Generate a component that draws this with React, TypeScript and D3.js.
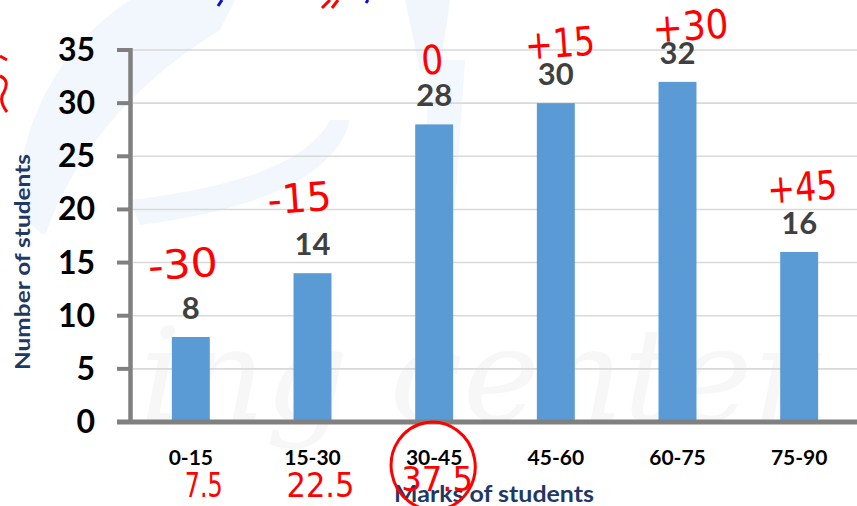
import React from "react";
import * as d3 from "d3";

const categories = ["0-15", "15-30", "30-45", "45-60", "60-75", "75-90"];
const values = [8, 14, 28, 30, 32, 16];
const yTicks = [0, 5, 10, 15, 20, 25, 30, 35];
const deviations = ["-30", "-15", "0", "+15", "+30", "+45"];
const midpoints = ["7.5", "22.5", "37.5"];

const W = 857;
const H = 506;

export default function App() {
  const x = d3
    .scaleBand<string>()
    .domain(categories)
    .range([130, 860])
    .paddingInner(0.688)
    .paddingOuter(0.344);
  const y = d3.scaleLinear().domain([0, 35]).range([422, 50]);
  const bw = x.bandwidth();
  const cx = (c: string) => (x(c) as number) + bw / 2;

  const font = "Lato, 'Open Sans', 'Liberation Sans', sans-serif";
  const hand = "'DejaVu Sans', sans-serif";

  // annotation placement (centre offset from bar centre, baseline, width)
  const devPos = [
    { dx: -7, base: 278, w: 70 },
    { dx: -12, base: 212, w: 64 },
    { dx: -1, base: 74, w: 22 },
    { dx: 5, base: 57, w: 70 },
    { dx: 14, base: 40, w: 76 },
    { dx: 4, base: 201, w: 70 },
  ];
  const midPos = [
    { dx: 13, base: 497, w: 38 },
    { dx: 8, base: 497, w: 68 },
    { dx: 3, base: 491, w: 72 },
  ];

  return (
    <svg width={W} height={H} style={{ position: "absolute", left: 0, top: 0, background: "#fff" }}>
      <rect x={0} y={0} width={W} height={H} fill="#fff" />
      {/* faint watermark */}
      <g>
        <path d="M130,0 Q40,60 20,170 Q15,220 45,235 Q90,110 220,30 L235,0 Z" fill="#f1f7fc" />
        <path d="M405,0 L450,0 L440,70 L420,70 Z" fill="#f0f6fc" />
        <path d="M130,200 Q300,180 330,120 L350,120 Q330,200 140,225 Z" fill="#f1f7fc" />
        <path d="M430,60 L465,60 L452,250 L420,250 Z" fill="#f2f8fd" />
        <text
          x={140}
          y={420}
          fontFamily="'DejaVu Serif', serif"
          fontStyle="italic"
          fontSize={130}
          fill="#f7f7f7"
        >
          ing center
        </text>
      </g>

      {/* gridlines */}
      {yTicks.slice(1).map((t) => (
        <line key={t} x1={133} x2={W} y1={y(t)} y2={y(t)} stroke="#d9d9d9" strokeWidth={1.6} />
      ))}

      {/* bars */}
      {values.map((v, i) => (
        <rect
          key={categories[i]}
          x={x(categories[i])}
          y={y(v)}
          width={bw}
          height={y(0) - y(v)}
          fill="#5b9bd5"
        />
      ))}

      {/* value labels */}
      {values.map((v, i) => (
        <text
          key={"v" + i}
          x={cx(categories[i])}
          y={y(v) - 18}
          textAnchor="middle"
          fontFamily={font}
          fontWeight={700}
          fontSize={31}
          fill="#404040"
        >
          {v}
        </text>
      ))}

      {/* y axis */}
      <line x1={130.5} x2={130.5} y1={y(35) - 2} y2={y(0)} stroke="#808080" strokeWidth={4.5} />
      {yTicks.map((t) => (
        <g key={"t" + t}>
          <line x1={117} x2={130} y1={y(t)} y2={y(t)} stroke="#808080" strokeWidth={4} />
          <text
            x={95}
            y={y(t) + 11}
            textAnchor="end"
            fontFamily={font}
            fontWeight={700}
            fontSize={32}
            fill="#000"
          >
            {t}
          </text>
        </g>
      ))}
      {/* x axis */}
      <line x1={117} x2={W} y1={y(0)} y2={y(0)} stroke="#808080" strokeWidth={5} />
      {categories.map((c) => (
        <text
          key={"c" + c}
          x={cx(c)}
          y={465}
          textAnchor="middle"
          fontFamily={font}
          fontWeight={700}
          fontSize={21}
          fill="#000"
        >
          {c}
        </text>
      ))}

      {/* axis titles */}
      <text
        x={494}
        y={502}
        textAnchor="middle"
        fontFamily={font}
        fontWeight={700}
        fontSize={22}
        textLength={200}
        lengthAdjust="spacingAndGlyphs"
        fill="#1f3864"
      >
        Marks of students
      </text>
      <text
        transform={`translate(30,262) rotate(-90)`}
        textAnchor="middle"
        fontFamily={font}
        fontWeight={700}
        fontSize={21}
        textLength={216}
        lengthAdjust="spacingAndGlyphs"
        fill="#1f3864"
      >
        Number of students
      </text>

      {/* red handwritten annotations */}
      {deviations.map((d, i) => {
        const px = cx(categories[i]) + devPos[i].dx;
        const py = devPos[i].base;
        return (
          <text
            key={"d" + i}
            x={px - devPos[i].w / 2}
            y={py}
            fontFamily={hand}
            fontSize={40}
            textLength={devPos[i].w}
            lengthAdjust="spacingAndGlyphs"
            fill="#ff0000"
            transform={`rotate(-4 ${px} ${py})`}
          >
            {d}
          </text>
        );
      })}
      {midpoints.map((m, i) => {
        const px = cx(categories[i]) + midPos[i].dx;
        return (
          <text
            key={"m" + i}
            x={px - midPos[i].w / 2}
            y={midPos[i].base}
            fontFamily={hand}
            fontSize={34}
            textLength={midPos[i].w}
            lengthAdjust="spacingAndGlyphs"
            fill="#ff0000"
          >
            {m}
          </text>
        );
      })}
      <ellipse
        cx={cx(categories[2]) - 1}
        cy={466}
        rx={42}
        ry={44}
        fill="none"
        stroke="#ff0000"
        strokeWidth={3}
        transform={`rotate(-10 ${cx(categories[2]) - 1} 466)`}
      />
      {/* cut-off marks at the edges */}
      <path d="M0,56 L7,60 M0,76 Q10,80 4,92 Q-2,100 7,112" fill="none" stroke="#ff0000" strokeWidth={3} />
      <path d="M322,8 L330,0 M332,8 L338,0" fill="none" stroke="#ff0000" strokeWidth={3} />
      <path d="M218,6 L222,0 M366,3 L368,0" fill="none" stroke="#1010cc" strokeWidth={3} />
    </svg>
  );
}
